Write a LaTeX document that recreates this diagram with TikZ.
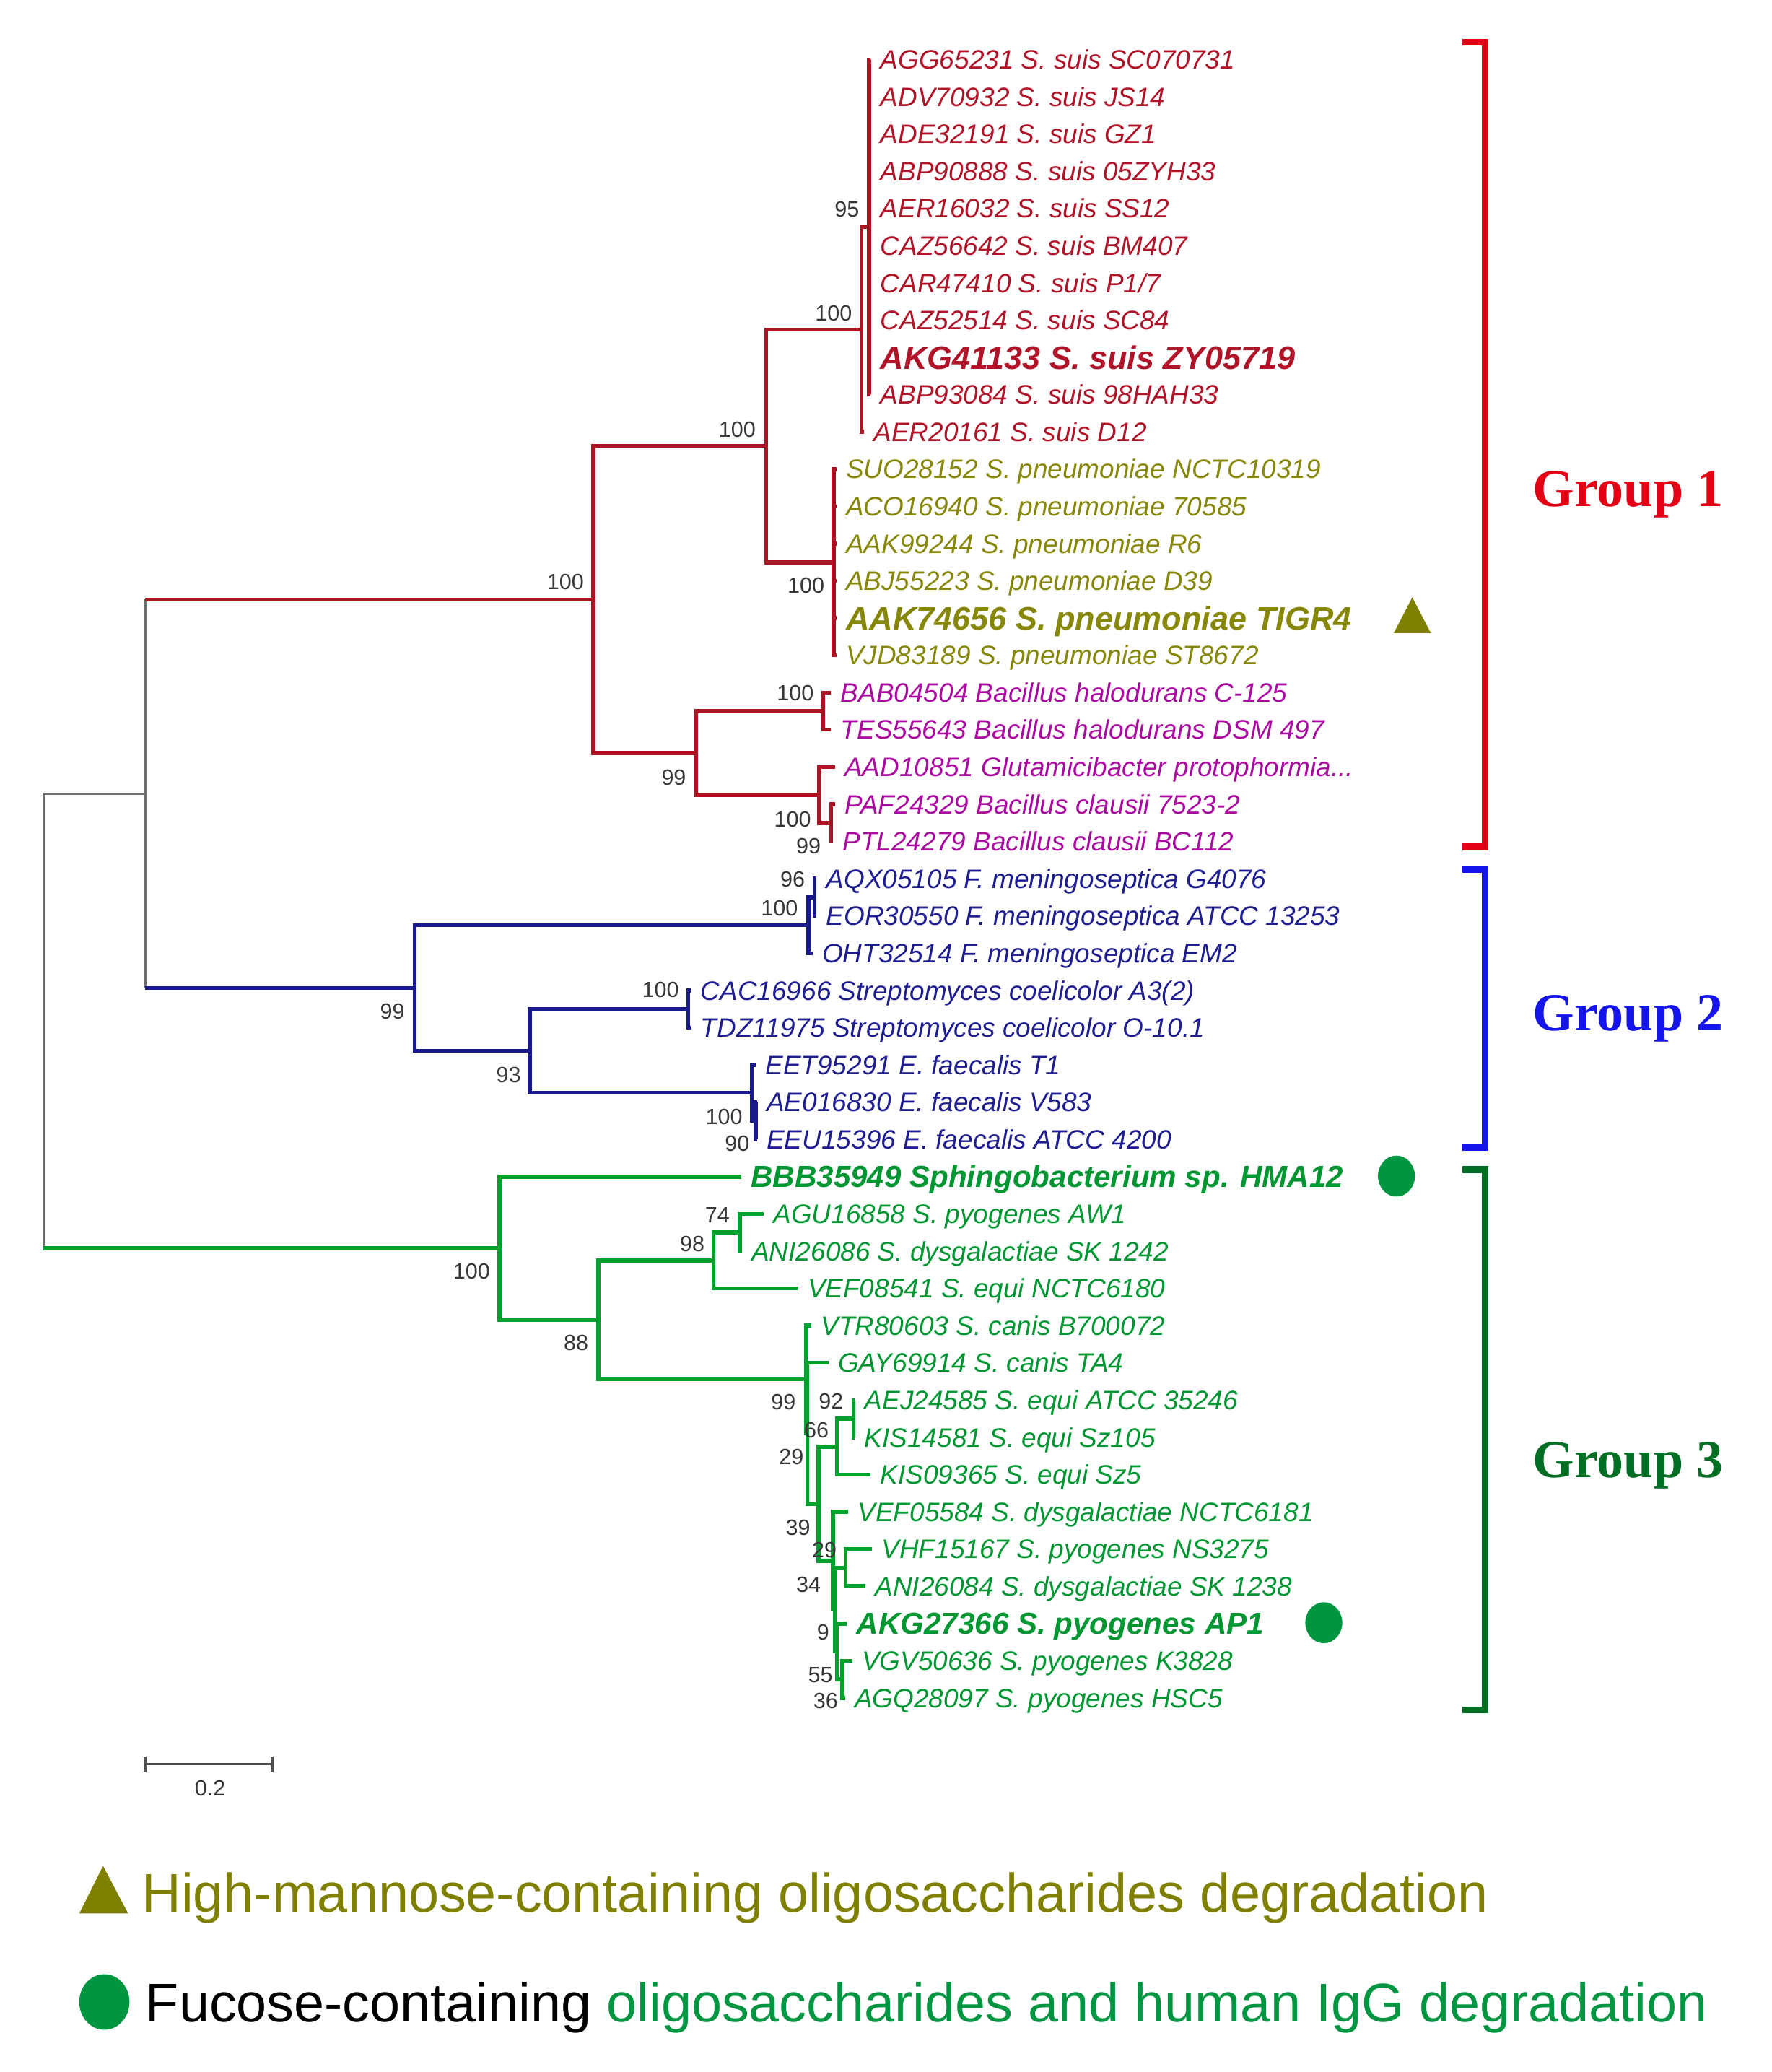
\documentclass[tikz,border=0pt]{standalone}
\usepackage{fontspec}
\setmainfont{Liberation Sans}
\newfontfamily\grpfont{Liberation Serif}

\definecolor{treered}{RGB}{170,20,35}
\definecolor{treeblue}{RGB}{25,25,140}
\definecolor{treegreen}{RGB}{0,160,45}
\definecolor{treegrey}{RGB}{110,110,110}
\definecolor{suiscol}{RGB}{175,20,40}
\definecolor{pneucol}{RGB}{135,135,10}
\definecolor{baccol}{RGB}{170,10,160}
\definecolor{bluecol}{RGB}{30,30,145}
\definecolor{grncol}{RGB}{0,150,50}
\definecolor{grpred}{RGB}{228,0,20}
\definecolor{grpblue}{RGB}{20,20,235}
\definecolor{grpgreen}{RGB}{0,110,35}
\definecolor{olivemk}{RGB}{128,128,0}
\definecolor{greenmk}{RGB}{0,150,65}
\definecolor{bsgrey}{RGB}{55,55,55}

\tikzstyle{greyln}=[draw=treegrey,line width=1pt]
\tikzstyle{redln}=[draw=treered,line width=1.7pt]
\tikzstyle{blueln}=[draw=treeblue,line width=1.7pt]
\tikzstyle{grnln}=[draw=treegreen,line width=1.7pt]
\tikzstyle{lf}=[anchor=west,inner xsep=4pt,inner ysep=0pt,text height=8.2pt,text depth=0pt,font=\fontsize{11.5}{13}\selectfont\itshape]
\tikzstyle{lfb}=[lf,text height=10pt,font=\fontsize{14}{16}\selectfont\bfseries\itshape]
\tikzstyle{lfg}=[lf,text height=9.4pt,font=\fontsize{13.1}{15}\selectfont\bfseries\itshape]
\tikzstyle{bs}=[inner sep=0pt,text height=6.8pt,text depth=0pt,text=bsgrey,font=\fontsize{9.5}{11}\selectfont]
\tikzstyle{grplbl}=[anchor=base west,inner sep=0pt,font=\fontsize{23}{26}\selectfont\grpfont\bfseries]
\tikzstyle{bracket}=[line width=3pt]
\tikzstyle{legtxt}=[anchor=base west,inner sep=0pt,font=\fontsize{23.5}{27}\selectfont]

\begin{document}
\begin{tikzpicture}[x=0.02cm,y=-0.02cm]
\useasboundingbox (0,0) rectangle (1341,1568);

% inner nodes of the tree
\coordinate (root) at (33,772.7);
\coordinate (na) at (110,600.7);
\coordinate (g1) at (449,453.6);
\coordinate (ns) at (580,337.4);
\coordinate (nsuis) at (652,249.3);
\coordinate (n95) at (657.7,171.8);
\coordinate (npn) at (631,425.5);
\coordinate (nbac) at (527,569.9);
\coordinate (nhal) at (623,538.2);
\coordinate (nclx) at (620,601.6);
\coordinate (ncla) at (629,622.7);
\coordinate (g2) at (314,747.8);
\coordinate (nfm) at (612,700.2);
\coordinate (nfm96) at (616.5,679.1);
\coordinate (n93) at (401,795.3);
\coordinate (nstr) at (521,763.6);
\coordinate (nef) at (569,827);
\coordinate (nef90) at (572,848.1);
\coordinate (g3) at (378,944.7);
\coordinate (n88) at (453,998.9);
\coordinate (n98) at (540,953.9);
\coordinate (n74) at (560,932.7);
\coordinate (n99) at (610,1043.9);
\coordinate (nx) at (611,1084.7);
\coordinate (ny) at (619.5,1138);
\coordinate (n66) at (633.5,1094.8);
\coordinate (n92) at (646,1073.6);
\coordinate (nz) at (630.5,1181.1);
\coordinate (nw) at (632,1218.1);
\coordinate (n29b) at (640,1186.3);
\coordinate (nv) at (633.5,1249.8);
\coordinate (n55) at (637.5,1270.9);

% group 1 leaves
\node[lf,text=suiscol] (agg) at (659,45.0) {AGG65231 S. suis SC070731};
\node[lf,text=suiscol] (adv) at (659,73.2) {ADV70932 S. suis JS14};
\node[lf,text=suiscol] (ade) at (659,101.4) {ADE32191 S. suis GZ1};
\node[lf,text=suiscol] (abpa) at (659,129.5) {ABP90888 S. suis 05ZYH33};
\node[lf,text=suiscol] (aera) at (659,157.7) {AER16032 S. suis SS12};
\node[lf,text=suiscol] (caza) at (659,185.9) {CAZ56642 S. suis BM407};
\node[lf,text=suiscol] (car) at (659,214.1) {CAR47410 S. suis P1/7};
\node[lf,text=suiscol] (cazb) at (659,242.3) {CAZ52514 S. suis SC84};
\node[lfb,text=suiscol] (akga) at (659,270.4) {AKG41133 S. suis ZY05719};
\node[lf,text=suiscol] (abpb) at (659,298.6) {ABP93084 S. suis 98HAH33};
\node[lf,text=suiscol] (aerb) at (654,326.8) {AER20161 S. suis D12};
\node[lf,text=pneucol] (suo) at (633,355.0) {SUO28152 S. pneumoniae NCTC10319};
\node[lf,text=pneucol] (aco) at (633,383.2) {ACO16940 S. pneumoniae 70585};
\node[lf,text=pneucol] (aaka) at (633,411.3) {AAK99244 S. pneumoniae R6};
\node[lf,text=pneucol] (abj) at (633,439.5) {ABJ55223 S. pneumoniae D39};
\node[lfb,text=pneucol] (aakb) at (633,467.7) {AAK74656 S. pneumoniae TIGR4};
\node[lf,text=pneucol] (vjd) at (633,495.9) {VJD83189 S. pneumoniae ST8672};
\node[lf,text=baccol] (bab) at (629,524.1) {BAB04504 Bacillus halodurans C-125};
\node[lf,text=baccol] (tes) at (629,552.2) {TES55643 Bacillus halodurans DSM 497};
\node[lf,text=baccol] (aad) at (632,580.4) {AAD10851 Glutamicibacter protophormia...};
\node[lf,text=baccol] (paf) at (632,608.6) {PAF24329 Bacillus clausii 7523-2};
\node[lf,text=baccol] (ptl) at (630.5,636.8) {PTL24279 Bacillus clausii BC112};

% group 2 leaves
\node[lf,text=bluecol] (aqx) at (618,665.0) {AQX05105 F. meningoseptica G4076};
\node[lf,text=bluecol] (eor) at (618,693.1) {EOR30550 F. meningoseptica ATCC 13253};
\node[lf,text=bluecol] (oht) at (615,721.3) {OHT32514 F. meningoseptica EM2};
\node[lf,text=bluecol] (cac) at (523,749.5) {CAC16966 Streptomyces coelicolor A3(2)};
\node[lf,text=bluecol] (tdz) at (523,777.7) {TDZ11975 Streptomyces coelicolor O-10.1};
\node[lf,text=bluecol] (eet) at (572,805.9) {EET95291 E. faecalis T1};
\node[lf,text=bluecol] (aez) at (573,834.0) {AE016830 E. faecalis V583};
\node[lf,text=bluecol] (eeu) at (573,862.2) {EEU15396 E. faecalis ATCC 4200};

% group 3 leaves
\node[lfg,text=grncol] (bbb) at (561,890.4) {BBB35949 Sphingobacterium sp. HMA12};
\node[lf,text=grncol] (agu) at (578,918.6) {AGU16858 S. pyogenes AW1};
\node[lf,text=grncol] (ania) at (561.5,946.8) {ANI26086 S. dysgalactiae SK 1242};
\node[lf,text=grncol] (vefa) at (604,975.0) {VEF08541 S. equi NCTC6180};
\node[lf,text=grncol] (vtr) at (614,1003.1) {VTR80603 S. canis B700072};
\node[lf,text=grncol] (gay) at (627,1031.3) {GAY69914 S. canis TA4};
\node[lf,text=grncol] (aej) at (647,1059.5) {AEJ24585 S. equi ATCC 35246};
\node[lf,text=grncol] (kisa) at (647,1087.7) {KIS14581 S. equi Sz105};
\node[lf,text=grncol] (kisb) at (659,1115.9) {KIS09365 S. equi Sz5};
\node[lf,text=grncol] (vefb) at (642,1144.1) {VEF05584 S. dysgalactiae NCTC6181};
\node[lf,text=grncol] (vhf) at (660,1172.2) {VHF15167 S. pyogenes NS3275};
\node[lf,text=grncol] (anib) at (655,1200.4) {ANI26084 S. dysgalactiae SK 1238};
\node[lfg,text=grncol] (akgb) at (641,1228.6) {AKG27366 S. pyogenes AP1};
\node[lf,text=grncol] (vgv) at (645,1256.8) {VGV50636 S. pyogenes K3828};
\node[lf,text=grncol] (agq) at (639.5,1285.0) {AGQ28097 S. pyogenes HSC5};

% root part
\draw[greyln] (root |- na) -- (root |- g3);
\draw[greyln] (root |- na) -- (na);
\draw[greyln] (na |- g1) -- (na |- g2);

% group 1 branches
\draw[redln] (na |- g1) -- (g1);
\draw[redln] (g1) |- (ns);
\draw[redln] (g1) |- (nbac);
\draw[redln] (ns) |- (nsuis);
\draw[redln] (ns) |- (npn);
\draw[redln] (nsuis) |- (n95);
\draw[redln] (nsuis) |- (aerb.west);
\foreach \l in {agg,adv,ade,abpa,aera,caza,car,cazb,akga,abpb}
  \draw[redln] (n95) |- (\l.west);
\foreach \l in {suo,aco,aaka,abj,aakb,vjd}
  \draw[redln] (npn) |- (\l.west);
\draw[redln] (nbac) |- (nhal);
\draw[redln] (nbac) |- (nclx);
\draw[redln] (nhal) |- (bab.west);
\draw[redln] (nhal) |- (tes.west);
\draw[redln] (nclx) |- (aad.west);
\draw[redln] (nclx) |- (ncla);
\draw[redln] (ncla) |- (paf.west);
\draw[redln] (ncla) |- (ptl.west);

% group 2 branches
\draw[blueln] (na |- g2) -- (g2);
\draw[blueln] (g2) |- (nfm);
\draw[blueln] (g2) |- (n93);
\draw[blueln] (nfm) |- (nfm96);
\draw[blueln] (nfm) |- (oht.west);
\draw[blueln] (nfm96) |- (aqx.west);
\draw[blueln] (nfm96) |- (eor.west);
\draw[blueln] (n93) |- (nstr);
\draw[blueln] (n93) |- (nef);
\draw[blueln] (nstr) |- (cac.west);
\draw[blueln] (nstr) |- (tdz.west);
\draw[blueln] (nef) |- (eet.west);
\draw[blueln] (nef) |- (nef90);
\draw[blueln] (nef90) |- (aez.west);
\draw[blueln] (nef90) |- (eeu.west);

% group 3 branches
\draw[grnln] (root |- g3) -- (g3);
\draw[grnln] (g3) |- (bbb.west);
\draw[grnln] (g3) |- (n88);
\draw[grnln] (n88) |- (n98);
\draw[grnln] (n88) |- (n99);
\draw[grnln] (n98) |- (n74);
\draw[grnln] (n98) |- (vefa.west);
\draw[grnln] (n74) |- (agu.west);
\draw[grnln] (n74) |- (ania.west);
\draw[grnln] (n99) |- (vtr.west);
\draw[grnln] (n99) |- (nx);
\draw[grnln] (nx) |- (gay.west);
\draw[grnln] (nx) |- (ny);
\draw[grnln] (ny) |- (n66);
\draw[grnln] (ny) |- (nz);
\draw[grnln] (n66) |- (n92);
\draw[grnln] (n66) |- (kisb.west);
\draw[grnln] (n92) |- (aej.west);
\draw[grnln] (n92) |- (kisa.west);
\draw[grnln] (nz) |- (vefb.west);
\draw[grnln] (nz) |- (nw);
\draw[grnln] (nw) |- (n29b);
\draw[grnln] (nw) |- (nv);
\draw[grnln] (n29b) |- (vhf.west);
\draw[grnln] (n29b) |- (anib.west);
\draw[grnln] (nv) |- (akgb.west);
\draw[grnln] (nv) |- (n55);
\draw[grnln] (n55) |- (vgv.west);
\draw[grnln] (n55) |- (agq.west);

% bootstrap values
\foreach \bx/\by/\bv [count=\i] in {641/158/95,631/237/100,558/325/100,428/440/100,610/443/100,
    602/524/100,510/588/99,600/620/100,612/640/99,600/665/96,590/687/100,297/765/99,
    500/749/100,385/813/93,548/845/100,558/865/90,357/962/100,543/919/74,524/941/98,
    436/1016/88,593/1061/99,629/1060/92,618/1082/66,599/1102/29,604/1156/39,
    624/1173/29,612/1199/34,623/1235/9,621/1267/55,625/1287/36}
  \node[bs] (bs\i) at (\bx,\by) {\bv};

% group brackets and names
\draw[bracket,grpred] (1107,32) -| (1124,641) -- (1107,641);
\draw[bracket,grpblue] (1107,658) -| (1124,868) -- (1107,868);
\draw[bracket,grpgreen] (1107,885) -| (1124,1294) -- (1107,1294);
\node[grplbl,text=grpred] (grpa) at (1160,383) {Group 1};
\node[grplbl,text=grpblue] (grpb) at (1160,780) {Group 2};
\node[grplbl,text=grpgreen] (grpc) at (1160,1118) {Group 3};

% markers
\fill[olivemk] (1069,452) -- (1083,479) -- (1055,479) -- cycle;
\fill[greenmk] (1057,890) ellipse [x radius=14,y radius=15.5];
\fill[greenmk] (1002,1228) ellipse [x radius=14,y radius=15.5];

% scale bar
\draw[treegrey!70!black,line width=1.2pt] (110,1335) -- (206,1335);
\draw[treegrey!70!black,line width=1.2pt] (110,1329) -- (110,1341);
\draw[treegrey!70!black,line width=1.2pt] (206,1329) -- (206,1341);
\node[bs] (sclbl) at (159,1353) {0.2};

% legend
\fill[olivemk] (78,1412) -- (97,1448) -- (60,1448) -- cycle;
\node[legtxt,text=olivemk] (lega) at (107,1447) {High-mannose-containing oligosaccharides degradation};
\fill[greenmk] (79,1515) ellipse [x radius=19,y radius=21];
\node[legtxt] (legb) at (110,1530) {Fucose-containing \textcolor{greenmk}{oligosaccharides and human IgG degradation}};
\end{tikzpicture}
\end{document}
